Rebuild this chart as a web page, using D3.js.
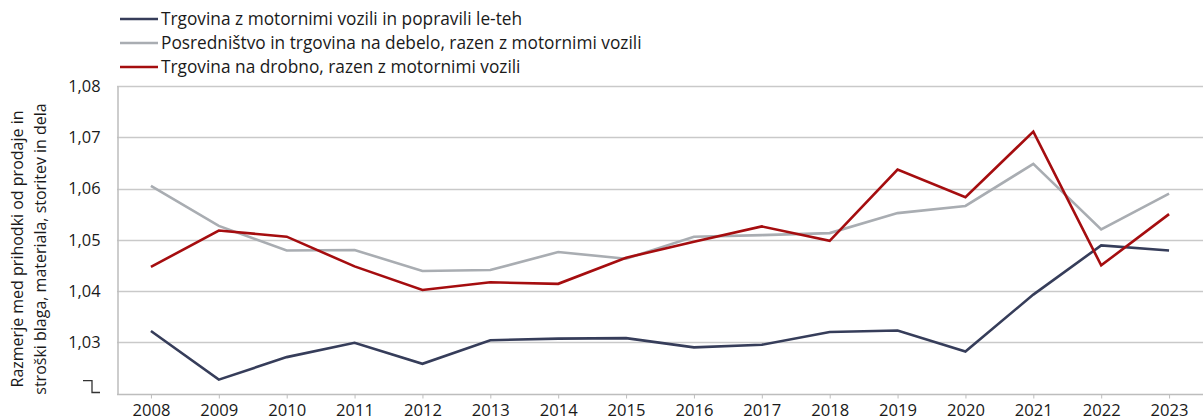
<!DOCTYPE html>
<html>
<head>
<meta charset="utf-8">
<script src="https://cdn.jsdelivr.net/npm/d3@7"></script>
<style>
  body { margin: 0; background: #fff; }
  text { font-family: "Open Sans", sans-serif; fill: #1a1a1a; }
</style>
</head>
<body>
<div id="chart"></div>
<script>
// Data
var years = ["2008", "2009", "2010", "2011", "2012", "2013", "2014", "2015",
             "2016", "2017", "2018", "2019", "2020", "2021", "2022", "2023"];
var seriesNames = [
  "Trgovina z motornimi vozili in popravili le-teh",
  "Posredništvo in trgovina na debelo, razen z motornimi vozili",
  "Trgovina na drobno, razen z motornimi vozili"
];
var motorVehicles = [1.0322, 1.0227, 1.0271, 1.0299, 1.0258, 1.0304, 1.0307, 1.0308,
                     1.0290, 1.0295, 1.0320, 1.0323, 1.0282, 1.0393, 1.0489, 1.0479];
var wholesale = [1.0605, 1.0527, 1.0479, 1.0480, 1.0439, 1.0441, 1.0476, 1.0463,
                 1.0506, 1.0509, 1.0513, 1.0552, 1.0566, 1.0648, 1.0520, 1.0590];
var retail = [1.0447, 1.0518, 1.0506, 1.0448, 1.0402, 1.0417, 1.0414, 1.0465,
              1.0496, 1.0526, 1.0498, 1.0637, 1.0583, 1.0711, 1.0450, 1.0550];
var yTicks = [1.03, 1.04, 1.05, 1.06, 1.07, 1.08];
var yTitle = ["Razmerje med prihodki od prodaje in", "stroški blaga, materiala, storitev in dela"];

var colors = ["#363d5a", "#a9adb2", "#a50d0f"];
var series = [motorVehicles, wholesale, retail];

// Layout
var width = 1203,
	height = 420,
	margin = {top: 86, right: 0, bottom: 26.5, left: 117},
	svg = d3.select("#chart")
	.append("svg")
	.attr("width", width)
	.attr("height", height);

var x = d3.scalePoint()
	.domain(years)
	.range([margin.left, width - margin.right])
	.padding(0.5);

var y = d3.scaleLinear()
	.domain([1.02, 1.08])
	.range([height - margin.bottom, margin.top]);

var fmt = function(d) { return d3.format(".2f")(d).replace(".", ","); };

// Gridlines
svg.append("g")
	.selectAll("line")
	.data(yTicks)
	.enter()
	.append("line")
	.attr("x1", margin.left)
	.attr("x2", width - margin.right)
	.attr("y1", function(d) { return Math.round(y(d)) + 0.5; })
	.attr("y2", function(d) { return Math.round(y(d)) + 0.5; })
	.attr("stroke", "#c9c9c9")
	.attr("stroke-width", 1.3);

// Axes
var xAxis = svg.append("g")
	.attr("transform", "translate(0," + (Math.round(y(1.02)) + 0.5) + ")")
	.call(d3.axisBottom(x).tickSize(4).tickSizeOuter(0));
xAxis.select(".domain")
	.attr("d", "M" + margin.left + ",0H" + width)
	.attr("stroke", "#bdbdbd")
	.attr("stroke-width", 1.5);
xAxis.selectAll(".tick line").attr("stroke", "#bdbdbd");
xAxis.selectAll(".tick text")
	.attr("dy", null)
	.attr("y", 21.5)
	.style("font-size", "16.6px")
	.style("font-family", "'Open Sans', sans-serif")
	.attr("fill", "#1a1a1a");

var yAxis = svg.append("g")
	.attr("transform", "translate(" + (margin.left + 0.5) + ",0)")
	.call(d3.axisLeft(y).tickValues(yTicks).tickFormat(fmt).tickSize(0).tickPadding(17));
yAxis.select(".domain")
	.attr("stroke", "#bdbdbd")
	.attr("stroke-width", 1.5);
yAxis.selectAll(".tick text")
	.style("font-size", "16.4px")
	.style("font-family", "'Open Sans', sans-serif")
	.attr("fill", "#1a1a1a");

// axis break mark
svg.append("path")
	.attr("d", "M83," + (y(1.0225)) + "H92V" + (y(1.02) - 1) + "H100")
	.attr("fill", "none")
	.attr("stroke", "#333")
	.attr("stroke-width", 1.3);

// Y title
svg.append("text")
	.attr("transform", "translate(23,249) rotate(-90)")
	.attr("text-anchor", "middle")
	.style("font-size", "16px")
	.selectAll("tspan")
	.data(yTitle)
	.enter()
	.append("tspan")
	.attr("x", 0)
	.attr("dy", function(d, i) { return i ? 22.5 : 0; })
	.text(function(d) { return d; });

// Lines
var line = d3.line()
	.x(function(d, i) { return x(years[i]); })
	.y(function(d) { return y(d); });

svg.append("g")
	.selectAll("path")
	.data(series)
	.enter()
	.append("path")
	.attr("d", line)
	.attr("fill", "none")
	.attr("stroke", function(d, i) { return colors[i]; })
	.attr("stroke-width", 2.6)
	.attr("stroke-linejoin", "miter");

// Legend
var legend = svg.append("g")
	.selectAll("g")
	.data(seriesNames)
	.enter()
	.append("g")
	.attr("transform", function(d, i) { return "translate(120," + (19 + i * 24) + ")"; });
legend.append("line")
	.attr("x1", 0)
	.attr("x2", 38)
	.attr("stroke", function(d, i) { return colors[i]; })
	.attr("stroke-width", 2.6);
legend.append("text")
	.attr("x", 41)
	.attr("dy", "0.35em")
	.style("font-size", "17.3px")
	.text(function(d) { return d; });
</script>
</body>
</html>
